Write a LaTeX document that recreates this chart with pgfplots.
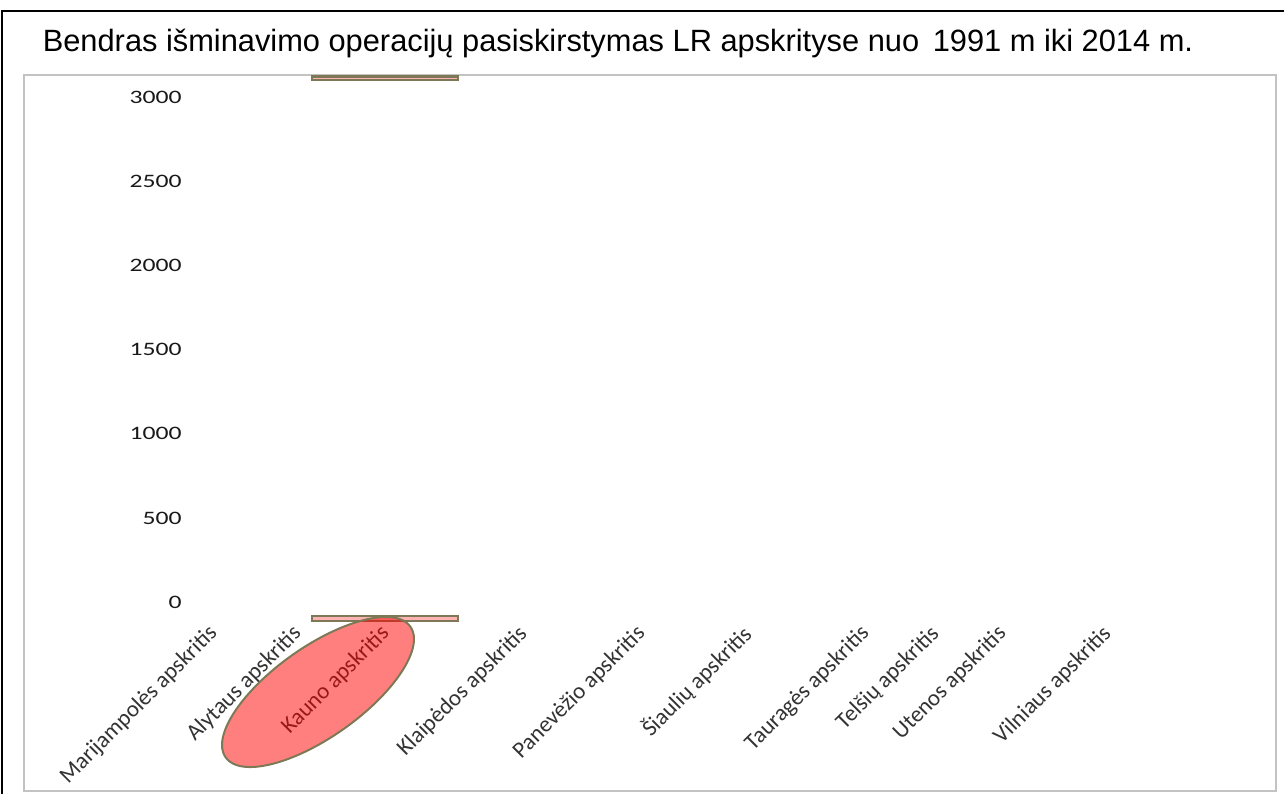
\documentclass[border=0pt]{standalone}
\usepackage{fontspec}
\setmainfont{Carlito}
\newfontfamily\titlefont{Liberation Sans}
\newfontfamily\tickfont[FakeStretch=1.35]{Carlito}
\usepackage{pgfplots}
\pgfplotsset{compat=1.18}
\definecolor{olivec}{RGB}{125,120,85}
\definecolor{framegray}{RGB}{195,195,195}
\begin{document}
\begin{tikzpicture}
\useasboundingbox (0,0) rectangle (642pt,397pt);
% frames
\draw[framegray, line width=1pt] (12pt,1.5pt) rectangle (638pt,359.5pt);
\draw[black, line width=1.2pt] (1pt,0) -- (1pt,391.5pt) -- (642pt,391.5pt);
% title
\node[font=\titlefont\fontsize{15.4}{17}\selectfont, anchor=center] at (309pt,375pt)
  {Bendras išminavimo operacijų pasiskirstymas LR apskrityse nuo \,1991 m iki 2014 m.};
\begin{axis}[
  at={(0pt,82pt)}, anchor=south west,
  scale only axis, width=642pt, height=277.5pt,
  xmin=0, xmax=1284, ymin=-166.5, ymax=3133.7,
  clip=false,
  axis line style={draw=none},
  major tick style={draw=none},
  ytick={0,500,1000,1500,2000,2500,3000},
  /pgf/number format/1000 sep={},
  /pgf/number format/assume math mode=true,
  yticklabel style={font=\tickfont\fontsize{9.5}{11}\selectfont, text=black!90, anchor=east, inner sep=0pt, xshift=91pt},
  xtick={214,298,386,524,642,748,866,936,1003,1108},
  xticklabels={Marijampolės apskritis, Alytaus apskritis, Kauno apskritis, Klaipėdos apskritis, Panevėžio apskritis, Šiaulių apskritis, Tauragės apskritis, Telšių apskritis, Utenos apskritis, Vilniaus apskritis},
  xticklabel style={font=\fontsize{11.5}{13}\selectfont, text=black!80, rotate=45, anchor=east, inner sep=0pt},
]
% Kauno bar: visible top and bottom edges
\addplot[draw=olivec, line width=1.2pt, fill=red, fill opacity=0.3]
  coordinates {(312,3125) (458,3125) (458,3103) (312,3103)} -- cycle;
\addplot[draw=olivec, line width=1pt, fill=red, fill opacity=0.3]
  coordinates {(312,-86) (458,-86) (458,-113) (312,-113)} -- cycle;
\end{axis}
% highlight ellipse
\draw[olivec, line width=1pt, fill=red, fill opacity=0.5] (159pt,51pt) ellipse[x radius=56.6pt, y radius=22.5pt, rotate=35.3];
\end{tikzpicture}
\end{document}
